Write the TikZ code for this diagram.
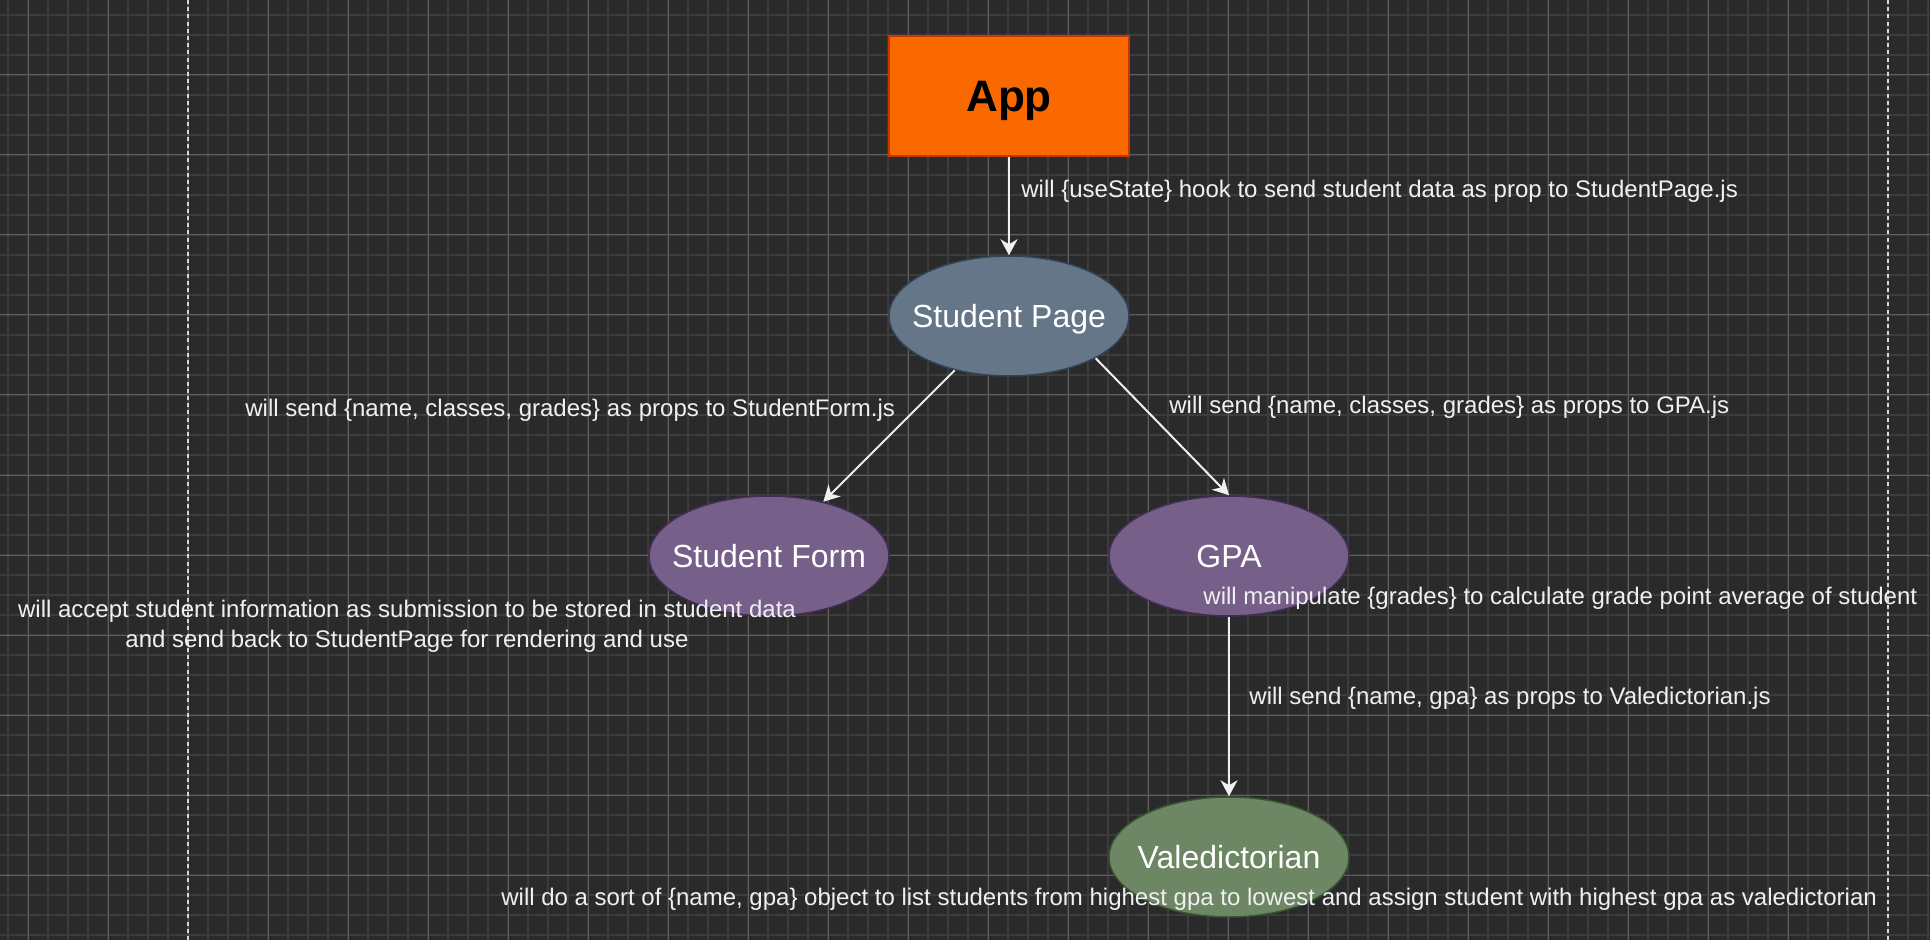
\documentclass[tikz,border=0pt]{standalone}
\usepackage{fontspec}
\setmainfont{Liberation Sans}
\usetikzlibrary{shapes.geometric,arrows.meta}
\definecolor{bgc}{HTML}{2A2A2A}
\definecolor{minorc}{HTML}{3C3C3C}
\definecolor{majorc}{HTML}{5E5E5E}
\definecolor{dashc}{HTML}{D8D8D8}
\definecolor{txtc}{HTML}{F0F0F0}
\definecolor{appfill}{HTML}{FA6800}
\definecolor{appdraw}{HTML}{C73500}
\definecolor{spfill}{HTML}{647687}
\definecolor{spdraw}{HTML}{314354}
\definecolor{pufill}{HTML}{76608A}
\definecolor{pudraw}{HTML}{432D57}
\definecolor{grfill}{HTML}{6D8764}
\definecolor{grdraw}{HTML}{3A5431}
\tikzset{
  minorline/.style={draw=minorc, line width=0.75pt},
  majorline/.style={draw=majorc, line width=0.5pt},
  sepline/.style={draw=dashc, line width=1pt, dash pattern=on 2pt off 1.6pt},
  lbl/.style={text=txtc, font=\fontsize{12}{15}\selectfont, inner sep=0pt},
  ell/.style={ellipse, minimum width=120pt, minimum height=60pt, inner sep=0pt,
    text height=11.5pt, text depth=0pt,
    line width=0.75pt, text=white, font=\fontsize{16}{19}\selectfont},
  appbox/.style={rectangle, minimum width=120pt, minimum height=60pt, inner sep=0pt,
    text height=15.8pt, text depth=0pt,
    fill=appfill, draw=appdraw, line width=1pt, text=black,
    font=\fontsize{22}{26}\selectfont\bfseries},
  conn/.style={draw=txtc, line width=1pt, -{Stealth[length=8pt,width=8.5pt,inset=2.5pt]}}
}
\begin{document}
\begin{tikzpicture}[x=0.5pt,y=-0.5pt]
\useasboundingbox (0,0) rectangle (1930,940);
\fill[bgc] (0,0) rectangle (1930,940);
% grid
\foreach \gx in {8,28,...,1928} \draw[minorline] (\gx,0) -- (\gx,940);
\foreach \gy in {15,35,...,935} \draw[minorline] (0,\gy) -- (1930,\gy);
\foreach \gx in {28,108,...,1868} \draw[majorline] (\gx,0) -- (\gx,940);
\foreach \gy in {75,155,...,875} \draw[majorline] (0,\gy) -- (1930,\gy);
% page separators
\draw[sepline] (188,0) -- (188,940);
\draw[sepline] (1888,0) -- (1888,940);
% nodes
\node[appbox] (app) at (1009,96) {App};
\node[ell, fill=spfill, draw=spdraw] (sp) at (1009,316) {\makebox[0pt]{Student Page}};
\node[ell, fill=pufill, draw=pudraw] (sf) at (769,556) {\makebox[0pt]{Student Form}};
\node[ell, fill=pufill, draw=pudraw] (gpa) at (1229,556) {\makebox[0pt]{GPA}};
\node[ell, fill=grfill, draw=grdraw] (val) at (1229,857) {\makebox[0pt]{Valedictorian}};
% connectors
\draw[conn] (app) -- (sp);
\draw[conn] (sp) -- (sf);
\draw[conn] (sp.-26.8) -- (gpa.north);
\draw[conn] (gpa) -- (val);
% labels
\node[lbl, anchor=base west] (l1) at (1021,198) {will \{useState\} hook to send student data as prop to StudentPage.js};
\node[lbl, anchor=base west] (l2) at (245,416) {will send \{name, classes, grades\} as props to StudentForm.js};
\node[lbl, anchor=base west] (l3) at (1169,414) {will send \{name, classes, grades\} as props to GPA.js};
\node[lbl, anchor=base, align=center] (l4) at (407,647) {will accept student information as submission to be stored in student data\\and send back to StudentPage for rendering and use};
\node[lbl, anchor=base west] (l5) at (1203,604) {will manipulate \{grades\} to calculate grade point average of student};
\node[lbl, anchor=base west] (l6) at (1249,704) {will send \{name, gpa\} as props to Valedictorian.js};
\node[lbl, anchor=base west] (l7) at (501,905) {will do a sort of \{name, gpa\} object to list students from highest gpa to lowest and assign student with highest gpa as valedictorian};
\end{tikzpicture}
\end{document}
